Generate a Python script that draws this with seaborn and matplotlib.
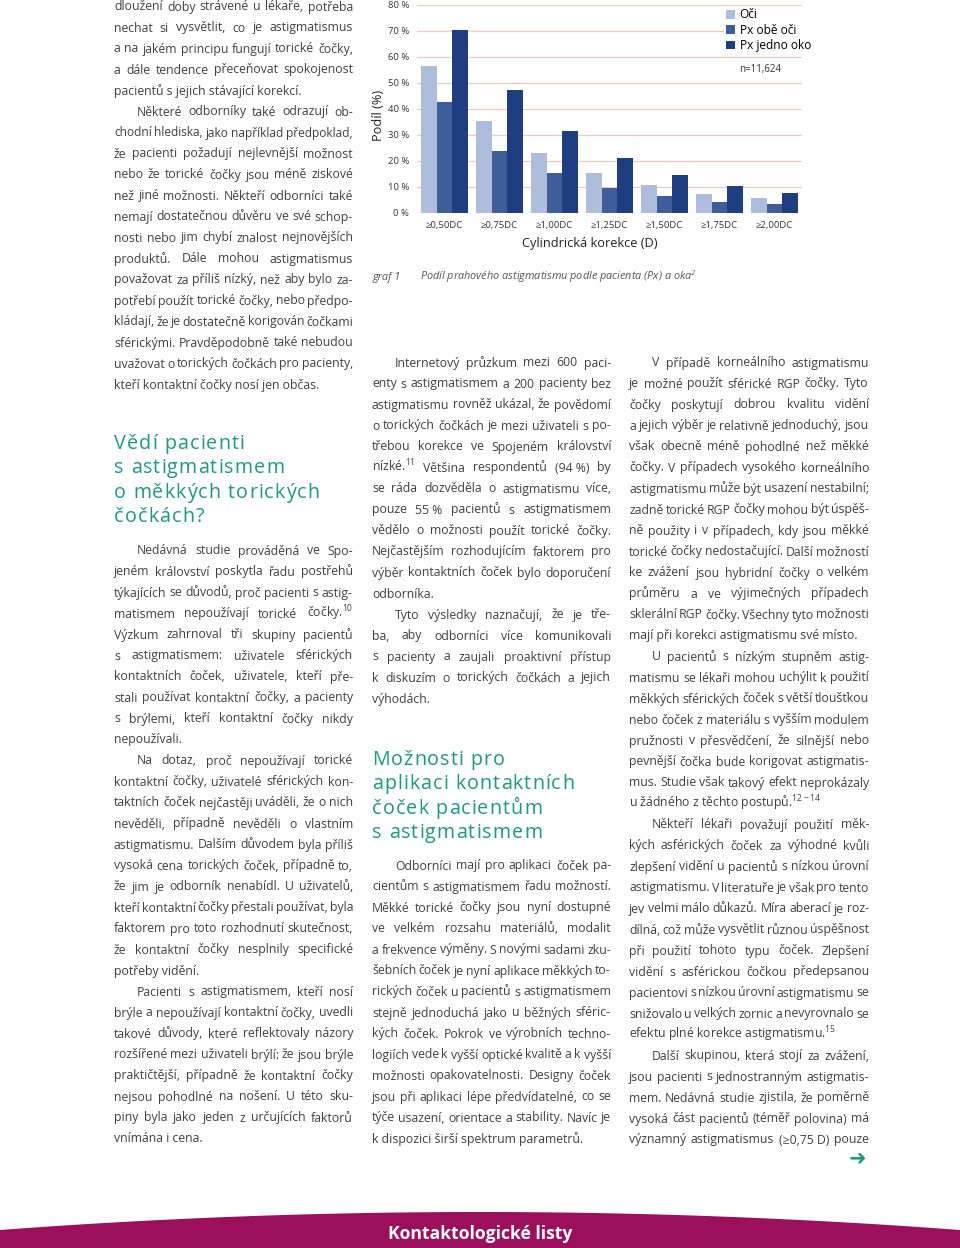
import numpy as np
import pandas as pd
import matplotlib
matplotlib.use("Agg")
import matplotlib.pyplot as plt
import seaborn as sns

korekce = ["≥0,50DC", "≥0,75DC", "≥1,00DC", "≥1,25DC", "≥1,50DC", "≥1,75DC", "≥2,00DC"]
skupiny = ["Oči", "Px obě oči", "Px jedno oko"]
oci = [56.6, 35.5, 23.2, 15.5, 10.8, 7.4, 5.6]
px_obe = [42.6, 23.9, 15.2, 9.6, 6.4, 4.4, 3.5]
px_jedno = [70.3, 47.5, 31.6, 21.2, 14.8, 10.5, 7.6]
y_ticks = [0, 10, 20, 30, 40, 50, 60, 70, 80]
barvy = ["#afbddc", "#3e5e9a", "#1f3e81"]

df = pd.DataFrame({
    "korekce": korekce * 3,
    "podil": oci + px_obe + px_jedno,
    "skupina": [s for s in skupiny for _ in korekce],
})

# page text
col_left = [
    (False, True, [
        "dloužení doby strávené u lékaře, potřeba",
        "nechat si vysvětlit, co je astigmatismus",
        "a na jakém principu fungují torické čočky,",
        "a dále tendence přeceňovat spokojenost",
        "pacientů s jejich stávající korekcí."]),
    (True, True, [
        "Některé odborníky také odrazují ob-",
        "chodní hlediska, jako například předpoklad,",
        "že pacienti požadují nejlevnější možnost",
        "nebo že torické čočky jsou méně ziskové",
        "než jiné možnosti. Někteří odborníci také",
        "nemají dostatečnou důvěru ve své schop-",
        "nosti nebo jim chybí znalost nejnovějších",
        "produktů. Dále mohou astigmatismus",
        "považovat za příliš nízký, než aby bylo za-",
        "potřebí použít torické čočky, nebo předpo-",
        "kládají, že je dostatečně korigován čočkami",
        "sférickými. Pravděpodobně také nebudou",
        "uvažovat o torických čočkách pro pacienty,",
        "kteří kontaktní čočky nosí jen občas."]),
]
nadpis1 = ["Vědí pacienti", "s astigmatismem", "o měkkých torických", "čočkách?"]
col_left2 = [
    (True, True, [
        "Nedávná studie prováděná ve Spo-",
        "jeném království poskytla řadu postřehů",
        "týkajících se důvodů, proč pacienti s astig-",
        "matismem nepoužívají torické čočky.$^{10}$",
        "Výzkum zahrnoval tři skupiny pacientů",
        "s astigmatismem: uživatele sférických",
        "kontaktních čoček, uživatele, kteří pře-",
        "stali používat kontaktní čočky, a pacienty",
        "s brýlemi, kteří kontaktní čočky nikdy",
        "nepoužívali."]),
    (True, True, [
        "Na dotaz, proč nepoužívají torické",
        "kontaktní čočky, uživatelé sférických kon-",
        "taktních čoček nejčastěji uváděli, že o nich",
        "nevěděli, případně nevěděli o vlastním",
        "astigmatismu. Dalším důvodem byla příliš",
        "vysoká cena torických čoček, případně to,",
        "že jim je odborník nenabídl. U uživatelů,",
        "kteří kontaktní čočky přestali používat, byla",
        "faktorem pro toto rozhodnutí skutečnost,",
        "že kontaktní čočky nesplnily specifické",
        "potřeby vidění."]),
    (True, True, [
        "Pacienti s astigmatismem, kteří nosí",
        "brýle a nepoužívají kontaktní čočky, uvedli",
        "takové důvody, které reflektovaly názory",
        "rozšířené mezi uživateli brýlí: že jsou brýle",
        "praktičtější, případně že kontaktní čočky",
        "nejsou pohodlné na nošení. U této sku-",
        "piny byla jako jeden z určujících faktorů",
        "vnímána i cena."]),
]
col_mid = [
    (True, True, [
        "Internetový průzkum mezi 600 paci-",
        "enty s astigmatismem a 200 pacienty bez",
        "astigmatismu rovněž ukázal, že povědomí",
        "o torických čočkách je mezi uživateli s po-",
        "třebou korekce ve Spojeném království",
        "nízké.$^{11}$ Většina respondentů (94\u00a0%) by",
        "se ráda dozvěděla o astigmatismu více,",
        "pouze 55\u00a0% pacientů s astigmatismem",
        "vědělo o možnosti použít torické čočky.",
        "Nejčastějším rozhodujícím faktorem pro",
        "výběr kontaktních čoček bylo doporučení",
        "odborníka."]),
    (True, True, [
        "Tyto výsledky naznačují, že je tře-",
        "ba, aby odborníci více komunikovali",
        "s pacienty a zaujali proaktivní přístup",
        "k diskuzím o torických čočkách a jejich",
        "výhodách."]),
]
nadpis2 = ["Možnosti pro", "aplikaci kontaktních", "čoček pacientům", "s astigmatismem"]
col_mid2 = [
    (True, True, [
        "Odborníci mají pro aplikaci čoček pa-",
        "cientům s astigmatismem řadu možností.",
        "Měkké torické čočky jsou nyní dostupné",
        "ve velkém rozsahu materiálů, modalit",
        "a frekvence výměny. S novými sadami zku-",
        "šebních čoček je nyní aplikace měkkých to-",
        "rických čoček u pacientů s astigmatismem",
        "stejně jednoduchá jako u běžných sféric-",
        "kých čoček. Pokrok ve výrobních techno-",
        "logiích vede k vyšší optické kvalitě a k vyšší",
        "možnosti opakovatelnosti. Designy čoček",
        "jsou při aplikaci lépe předvídatelné, co se",
        "týče usazení, orientace a stability. Navíc je",
        "k dispozici širší spektrum parametrů."]),
]
col_right = [
    (True, True, [
        "V případě korneálního astigmatismu",
        "je možné použít sférické RGP čočky. Tyto",
        "čočky poskytují dobrou kvalitu vidění",
        "a jejich výběr je relativně jednoduchý, jsou",
        "však obecně méně pohodlné než měkké",
        "čočky. V případech vysokého korneálního",
        "astigmatismu může být usazení nestabilní;",
        "zadně torické RGP čočky mohou být úspěš-",
        "ně použity i v případech, kdy jsou měkké",
        "torické čočky nedostačující. Další možností",
        "ke zvážení jsou hybridní čočky o velkém",
        "průměru a ve výjimečných případech",
        "sklerální RGP čočky. Všechny tyto možnosti",
        "mají při korekci astigmatismu své místo."]),
    (True, True, [
        "U pacientů s nízkým stupněm astig-",
        "matismu se lékaři mohou uchýlit k použití",
        "měkkých sférických čoček s větší tloušťkou",
        "nebo čoček z materiálu s vyšším modulem",
        "pružnosti v přesvědčení, že silnější nebo",
        "pevnější čočka bude korigovat astigmatis-",
        "mus. Studie však takový efekt neprokázaly",
        "u žádného z těchto postupů.$^{12-14}$"]),
    (True, True, [
        "Někteří lékaři považují použití měk-",
        "kých asférických čoček za výhodné kvůli",
        "zlepšení vidění u pacientů s nízkou úrovní",
        "astigmatismu. V literatuře je však pro tento",
        "jev velmi málo důkazů. Míra aberací je roz-",
        "dílná, což může vysvětlit různou úspěšnost",
        "při použití tohoto typu čoček. Zlepšení",
        "vidění s asférickou čočkou předepsanou",
        "pacientovi s nízkou úrovní astigmatismu se",
        "snižovalo u velkých zornic a nevyrovnalo se",
        "efektu plné korekce astigmatismu.$^{15}$"]),
    (True, False, [
        "Další skupinou, která stojí za zvážení,",
        "jsou pacienti s jednostranným astigmatis-",
        "mem. Nedávná studie zjistila, že poměrně",
        "vysoká část pacientů (téměř polovina) má",
        "významný astigmatismus (≥0,75\u00a0D) pouze"]),
]

plt.rcParams["font.family"] = ["Open Sans", "DejaVu Sans"]
plt.rcParams["mathtext.default"] = "regular"

W, H = 960, 1248
fig = plt.figure(figsize=(W / 100, H / 100), dpi=100)
R = fig.canvas.get_renderer()

page = fig.add_axes([0, 0, 1, 1], zorder=0)
page.set_xlim(0, W)
page.set_ylim(H, 0)
page.axis("off")

TXT = "#404040"
TEAL = "#1b9a80"
FS = 8.8
LH = 21
IND = 23


def tw(s, fs, **kw):
    t = page.text(0, 0, s, fontsize=fs, **kw)
    w = t.get_window_extent(renderer=R).width
    t.remove()
    return w


def body(x0, y0, pars, width):
    y = y0
    for indent, ends, lines in pars:
        for i, line in enumerate(lines):
            xs = x0 + (IND if (i == 0 and indent) else 0)
            avail = x0 + width - xs
            last = i == len(lines) - 1
            words = line.split(" ")
            if (last and ends) or len(words) == 1:
                page.text(xs, y + 4.5, line, fontsize=FS, color=TXT, va="baseline")
            else:
                fs = FS
                while True:
                    ws = [tw(w, fs) for w in words]
                    gap = (avail - sum(ws)) / (len(words) - 1)
                    if gap >= 1.8 or fs < 7:
                        break
                    fs -= 0.1
                x = xs
                for w, wd in zip(words, ws):
                    page.text(x, y + 4.5, w, fontsize=fs, color=TXT, va="baseline")
                    x += wd + gap
            y += LH


def nadpis(x0, y0, lines, fs=14.2, step=24.3, ref_width=170):
    def cw(c):
        w = tw(c, fs)
        return w if w > 1 else fs * 0.26 * 100 / 72

    ref = "s astigmatismem"
    track = (ref_width - sum(cw(c) for c in ref)) / (len(ref) - 1)
    for k, line in enumerate(lines):
        x = x0
        for c in line:
            page.text(x, y0 + k * step + 6, c, fontsize=fs, color=TEAL, va="baseline")
            x += cw(c) + track


body(114, 6, col_left, 239)
nadpis(114, 443, nadpis1)
body(114, 550, col_left2, 239)
body(372, 362, col_mid, 239)
nadpis(372, 759, nadpis2)
body(372, 865, col_mid2, 239)
body(629, 362, col_right, 240)

# caption
page.text(372, 280, "graf 1", fontsize=7.8, style="italic", color="#555555", va="baseline")
page.text(420, 280, "Podíl prahového astigmatismu podle pacienta (Px) a oka$^{2}$",
          fontsize=7.8, style="italic", color="#555555", va="baseline")

# arrow
page.text(858, 1158, "➜", fontsize=15, color=TEAL, family="DejaVu Sans",
          ha="center", va="center")

# footer band
xs = np.linspace(0, W, 200)
top = 1212 + 18 * ((xs - W / 2) / (W / 2)) ** 2
page.fill_between(xs, top, H, color="#9c0f5c", lw=0)
page.text(W / 2, 1239, "Kontaktologické listy", fontsize=12.6, fontweight="bold",
          color="white", ha="center", va="baseline")

# chart
ax = fig.add_axes([417 / W, 1 - 213 / H, 385 / W, 208 / H], zorder=2)
ax.set_facecolor("none")
sns.barplot(data=df, x="korekce", y="podil", hue="skupina", palette=barvy,
            width=0.87, gap=0, saturation=1, ax=ax)
ax.set_xlim(-0.5, len(korekce) - 0.5)
ax.set_ylim(0, 80)
ax.set_yticks(y_ticks)
ax.set_yticklabels([f"{v} %" for v in y_ticks])
ax.yaxis.grid(True, color="#f1c8c2", lw=0.9)
ax.xaxis.grid(False)
ax.set_axisbelow(True)
for s in ax.spines.values():
    s.set_visible(False)
ax.tick_params(axis="both", length=0, labelsize=6.8, labelcolor="#333333")
ax.tick_params(axis="y", pad=5.5)
ax.tick_params(axis="x", pad=6)
ax.set_xlabel("")
ax.set_ylabel("")

handles, labels = ax.get_legend_handles_labels()
ax.legend(handles, labels, loc="upper left", bbox_to_anchor=(724 / W, 1 - 6 / H),
          bbox_transform=fig.transFigure, frameon=True, facecolor="white",
          edgecolor="none", framealpha=1, fancybox=False, borderpad=0.2,
          borderaxespad=0, handlelength=0.75, handleheight=0.75,
          handletextpad=0.35, labelspacing=0.2, fontsize=8.6)

page.text(739, 72, "n=11,624", fontsize=7.0, color="#333333", va="baseline")
page.text(590, 244, "Cylindrická korekce (D)", fontsize=9.2, color="#222222",
          ha="center", va="center")
page.text(378, 115, "Podíl (%)", fontsize=9.2, color="#222222", rotation=90,
          ha="center", va="center")

fig.savefig("out.png", dpi=100)
